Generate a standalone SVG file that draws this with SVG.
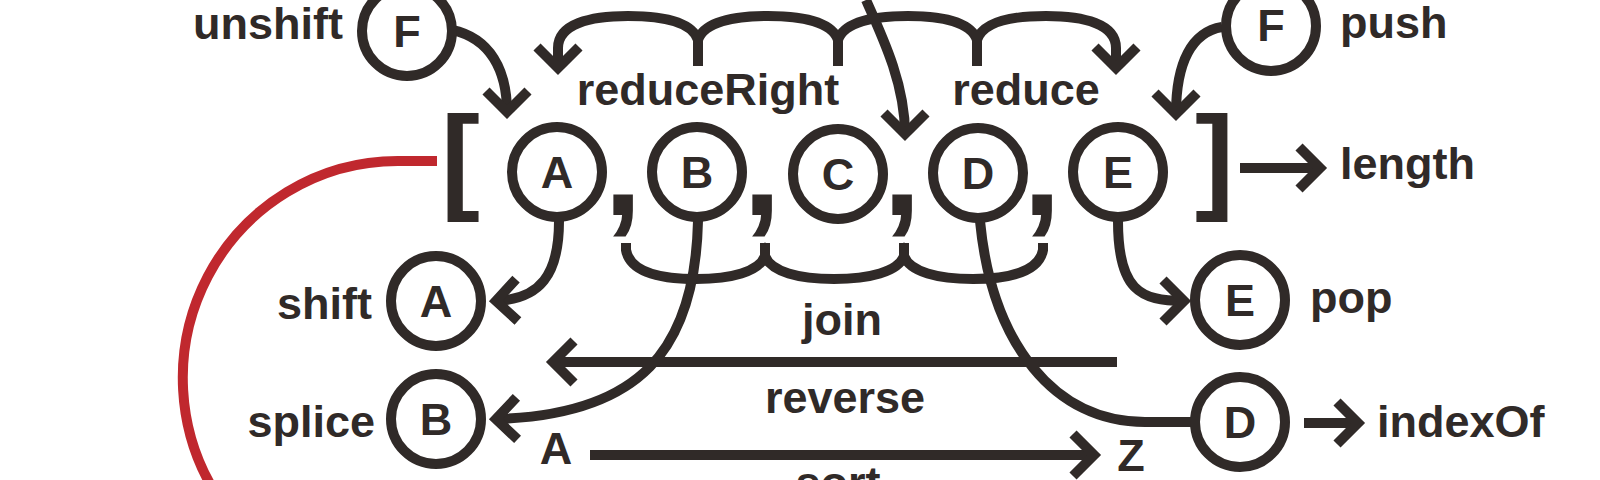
<svg xmlns="http://www.w3.org/2000/svg" width="1600" height="480" viewBox="0 0 1600 480">
<style>
.s{fill:none;stroke:#302a28;stroke-width:10;stroke-linejoin:miter;stroke-linecap:butt}
.red{fill:none;stroke:#c0282e;stroke-width:10}
.n circle{fill:#fff;stroke:#302a28;stroke-width:10}
text{font-family:"Liberation Sans",Arial,Helvetica,sans-serif;font-weight:bold;fill:#302a28;font-size:45px}
.m{text-anchor:middle}
.e{text-anchor:end}
.big{font-size:117px}
.cm{font-size:138px;text-anchor:middle}
</style>
<defs>
<marker id="ah" viewBox="-30 -30 40 60" markerWidth="40" markerHeight="60" refX="0" refY="0" orient="auto-start-reverse" markerUnits="userSpaceOnUse" overflow="visible">
<path d="M-21,-21 L0,0 L-21,21" fill="none" stroke="#302a28" stroke-width="10" stroke-linejoin="miter"/>
</marker>
</defs>
<rect width="1600" height="480" fill="#fff"/>
<g id="connectors">
<path class="red" d="M437,161 L398,161 A215,217 0 0 0 220,500"/>
<path class="s" marker-end="url(#ah)" d="M452,30 C490,38 507,70 507,112"/>
<path class="s" marker-end="url(#ah)" d="M1222,27 C1192,32 1176,62 1176,114"/>
<path class="s" marker-start="url(#ah)" marker-end="url(#ah)" d="M558,68 L558,48 C558,24 590,16 628,16 C664,16 692,22 698,40 C704,22 734,16 768,16 C802,16 832,22 838,40 C844,22 874,16 908,16 C942,16 971,22 977,40 C983,22 1010,16 1046,16 C1084,16 1116,24 1116,48 L1116,68"/>
<path class="s" d="M698,38 V66 M838,38 V66 M977,38 V66"/>
<path class="s" marker-end="url(#ah)" d="M866,0 C884,40 905,85 905,134"/>
<path class="s" d="M626,243 L626,250 C630,272 660,279 696,279 C731,279 759,272 765,256 C771,272 799,279 834,279 C869,279 898,272 904,256 C910,272 938,279 973,279 C1008,279 1039,272 1043,250 L1043,243 M765,243 V258 M904,243 V258"/>
<path class="s" marker-end="url(#ah)" d="M559,221 C559,275 540,299 496,301"/>
<path class="s" marker-end="url(#ah)" d="M698,221 C695,350 640,415 496,419"/>
<path class="s" d="M980,221 C992,345 1055,422 1145,422 L1192,422"/>
<path class="s" marker-end="url(#ah)" d="M1118,221 C1118,290 1140,301 1184,301"/>
<path class="s" marker-end="url(#ah)" d="M1117,362 L553,362"/>
<path class="s" marker-end="url(#ah)" d="M590,455 L1094,455"/>
<path class="s" marker-end="url(#ah)" d="M1240,168 L1320,168"/>
<path class="s" marker-end="url(#ah)" d="M1304,423 L1358,423"/>
</g>
<g id="array">
<text class="big" x="441" y="198">[</text>
<text class="big" x="1195" y="198">]</text>
<text class="cm" x="623" y="215">,</text>
<text class="cm" x="762" y="215">,</text>
<text class="cm" x="902" y="215">,</text>
<text class="cm" x="1042" y="215">,</text>
</g>
<g id="nA" class="n"><circle cx="557" cy="172" r="45"/><text class="m" x="557" y="188">A</text></g>
<g id="nB" class="n"><circle cx="697" cy="172" r="45"/><text class="m" x="697" y="188">B</text></g>
<g id="nC" class="n"><circle cx="838" cy="174" r="45"/><text class="m" x="838" y="190">C</text></g>
<g id="nD" class="n"><circle cx="978" cy="173" r="45"/><text class="m" x="978" y="189">D</text></g>
<g id="nE" class="n"><circle cx="1118" cy="172" r="45"/><text class="m" x="1118" y="188">E</text></g>
<g id="unshift" class="n"><circle cx="407" cy="31" r="45"/><text class="m" x="407" y="47">F</text><text class="e" x="343" y="39">unshift</text></g>
<g id="push" class="n"><circle cx="1271" cy="26" r="45"/><text class="m" x="1271" y="41">F</text><text x="1340" y="38">push</text></g>
<g id="shift" class="n"><circle cx="436" cy="301" r="45"/><text class="m" x="436" y="317">A</text><text class="e" x="372" y="319">shift</text></g>
<g id="splice" class="n"><circle cx="436" cy="419" r="45"/><text class="m" x="436" y="435">B</text><text class="e" x="375" y="437">splice</text></g>
<g id="pop" class="n"><circle cx="1240" cy="300" r="45"/><text class="m" x="1240" y="316">E</text><text x="1310" y="313">pop</text></g>
<g id="indexOf" class="n"><circle cx="1240" cy="422" r="45"/><text class="m" x="1240" y="438">D</text><text x="1377" y="437">indexOf</text></g>
<g id="labels">
<text class="m" x="708" y="105">reduceRight</text>
<text class="m" x="1026" y="105">reduce</text>
<text x="1340" y="179">length</text>
<text class="m" x="842" y="335">join</text>
<text class="m" x="845" y="413">reverse</text>
<text class="m" x="556" y="464">A</text>
<text class="m" x="1131" y="471">Z</text>
<text class="m" x="838" y="498">sort</text>
</g>
</svg>
